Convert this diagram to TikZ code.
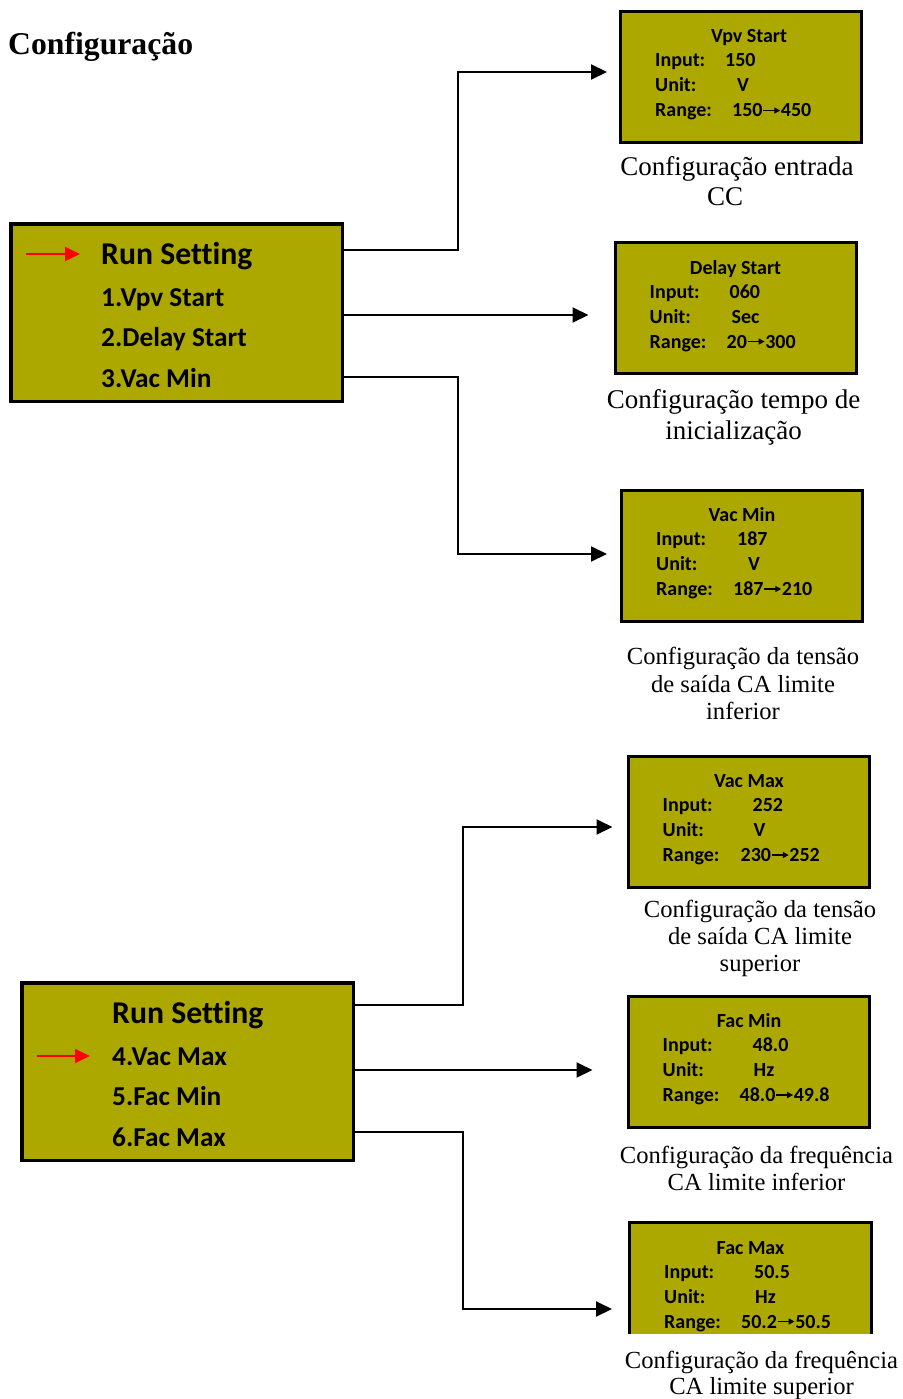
\documentclass[tikz,border=0pt]{standalone}
\usepackage{fontspec}
\setmainfont{Liberation Serif}
\newfontfamily\lcdfont{Carlito}[Ligatures=NoCommon]
\usetikzlibrary{arrows.meta,calc}
\definecolor{lcdolive}{RGB}{172,168,0}

% small arrow used inside the range values
\newcommand\rangearrow{\tikz[x=1pt,y=1pt,baseline=0pt]\draw[line width=1.3pt,-{Triangle[length=6pt,width=6pt]}] (1,6.5) -- (18,6.5);}

% text of one settings panel: name, title, input, input x, unit, unit x, range, range x, title dx
\newcommand\paneltext[9]{%
  \node[paneltitle] (#1-t) at ($(#1.north)+(#9,33)$) {#2};
  \node[panellabel] (#1-il) at ($(#1.north west)+(36,57)$) {Input:};
  \node[panellabel] (#1-iv) at ($(#1.north west)+(#4,57)$) {#3};
  \node[panellabel] (#1-ul) at ($(#1.north west)+(36,82)$) {Unit:};
  \node[panellabel] (#1-uv) at ($(#1.north west)+(#6,82)$) {#5};
  \node[panellabel] (#1-rl) at ($(#1.north west)+(36,107)$) {Range:};
  \node[panellabel] (#1-rv) at ($(#1.north west)+(#8,107)$) {#7};
}

\tikzset{
  menubox/.style={draw=black, line width=3.5pt, fill=lcdolive, inner sep=0pt,
    minimum width=331.5pt, minimum height=177.5pt},
  panel/.style={draw=black, line width=3pt, fill=lcdolive, inner sep=0pt,
    minimum width=241pt, minimum height=131pt},
  menuhead/.style={anchor=base west, inner sep=0pt, font=\lcdfont\bfseries\fontsize{31.7}{36}\selectfont},
  menuitem/.style={anchor=base west, inner sep=0pt, font=\lcdfont\bfseries\fontsize{27.3}{32}\selectfont},
  paneltitle/.style={anchor=base, inner sep=0pt, font=\lcdfont\bfseries\fontsize{20}{24}\selectfont},
  panellabel/.style={anchor=base west, inner sep=0pt, font=\lcdfont\bfseries\fontsize{20}{24}\selectfont},
  caption/.style={anchor=north, inner sep=0pt, align=center, font=\fontsize{24.6}{27}\selectfont},
  bigcaption/.style={caption, font=\fontsize{27}{30}\selectfont},
  conn/.style={line width=2pt, -{Triangle[length=16pt,width=15pt]}},
  pointer/.style={draw=red, line width=1.8pt, -{Triangle[length=15pt,width=14pt]}},
}

\begin{document}
\begin{tikzpicture}[x=1pt,y=-1pt]
\path[use as bounding box] (0,0) rectangle (902,1399);

\node[anchor=base west, inner sep=0pt, font=\fontsize{31.7}{36}\selectfont\bfseries] (title) at (8,55) {Configuração};

% ---- first menu and its three panels ----
\node[menubox] (m1) at (176.5,312.5) {};
\node[menuhead] (m1-h) at ($(m1.north west)+(92,42)$) {Run Setting};
\node[menuitem] (m1-a) at ($(m1.north west)+(92,84)$) {1.Vpv Start};
\node[menuitem] (m1-b) at ($(m1.north west)+(92,124.5)$) {2.Delay Start};
\node[menuitem] (m1-c) at ($(m1.north west)+(92,165)$) {3.Vac Min};
\coordinate (m1-p) at ($(m1.north west)+(17,32)$);
\draw[pointer] (m1-p) -- ++(54,0);

\node[panel] (b1) at (741,77) {};
\paneltext{b1}{Vpv Start}{150}{106}{V}{118}{150\rangearrow450}{113}{8}
\node[bigcaption] (c1) at (737,156.6) {Configuração entrada\\CC\hspace*{24pt}};

\node[panel] (b2) at (735.5,308) {};
\paneltext{b2}{Delay Start}{060}{116}{Sec}{118}{20\rangearrow300}{113}{0}
\node[bigcaption, font=\fontsize{27}{31}\selectfont] (c2) at (733.5,389.6) {Configuração tempo de\\inicialização};

\node[panel] (b3) at (742,555.5) {};
\paneltext{b3}{Vac Min}{187}{117}{V}{128}{187\rangearrow210}{113}{0}
\node[caption, font=\fontsize{24.6}{27.5}\selectfont] (c3) at (743,647) {Configuração da tensão\\de saída CA limite\\inferior};

\coordinate (m1-s1) at ($(m1.north east)+(0,28)$);
\coordinate (m1-s2) at ($(m1.north east)+(0,93)$);
\coordinate (m1-s3) at ($(m1.north east)+(0,155)$);
\coordinate (t1) at ($(b1.west)+(-12,-5)$);
\coordinate (t2) at ($(b2.west)+(-25,0)$);
\coordinate (t3) at ($(b3.west)+(-13,-1.5)$);
\draw[conn] (m1-s1) -- ++(114,0) |- (t1);
\draw[conn] (m1-s2) -- (m1-s2 -| t2);
\draw[conn] (m1-s3) -- ++(114,0) |- (t3);

% ---- second menu and its three panels ----
\node[menubox] (m2) at (187.5,1071.5) {};
\node[menuhead] (m2-h) at ($(m2.north west)+(92,42)$) {Run Setting};
\node[menuitem] (m2-a) at ($(m2.north west)+(92,84)$) {4.Vac Max};
\node[menuitem] (m2-b) at ($(m2.north west)+(92,124.5)$) {5.Fac Min};
\node[menuitem] (m2-c) at ($(m2.north west)+(92,165)$) {6.Fac Max};
\coordinate (m2-p) at ($(m2.north west)+(17,75)$);
\draw[pointer] (m2-p) -- ++(53,0);

\node[panel] (b4) at (748.5,821.5) {};
\paneltext{b4}{Vac Max}{252}{126}{V}{127}{230\rangearrow252}{114}{0.5}
\node[caption] (c4) at (760,900) {Configuração da tensão\\de saída CA limite\\superior};

\node[panel] (b5) at (748.5,1061.5) {};
\paneltext{b5}{Fac Min}{48.0}{126}{Hz}{127}{48.0\rangearrow49.8}{113}{0.5}
\node[caption] (c5) at (756.5,1146) {Configuração da frequência\\CA limite inferior};

% last panel is cut off at its lower edge
\node[fill=lcdolive, inner sep=0pt, outer sep=0pt, minimum width=245pt, minimum height=113pt] (b6) at (750.5,1277.5) {};
\draw[line width=3pt] ($(b6.south west)+(1.5,0)$) -- ($(b6.north west)+(1.5,1.5)$) -- ($(b6.north east)+(-1.5,1.5)$) -- ($(b6.south east)+(-1.5,0)$);
\paneltext{b6}{Fac Max}{50.5}{126}{Hz}{127}{50.2\rangearrow50.5}{113}{0}
\node[caption, font=\fontsize{24.6}{26}\selectfont] (c6) at (761.5,1351) {Configuração da frequência\\CA limite superior};

\coordinate (m2-s1) at ($(m2.north east)+(0,24)$);
\coordinate (m2-s2) at ($(m2.north east)+(0,89)$);
\coordinate (m2-s3) at ($(m2.north east)+(0,151)$);
\coordinate (t4) at ($(b4.west)+(-14,5.5)$);
\coordinate (t5) at ($(b5.west)+(-34,0)$);
\coordinate (t6) at ($(b6.west)+(-16,31.5)$);
\draw[conn] (m2-s1) -- ++(108,0) |- (t4);
\draw[conn] (m2-s2) -- (m2-s2 -| t5);
\draw[conn] (m2-s3) -- ++(108,0) |- (t6);
\end{tikzpicture}
\end{document}
